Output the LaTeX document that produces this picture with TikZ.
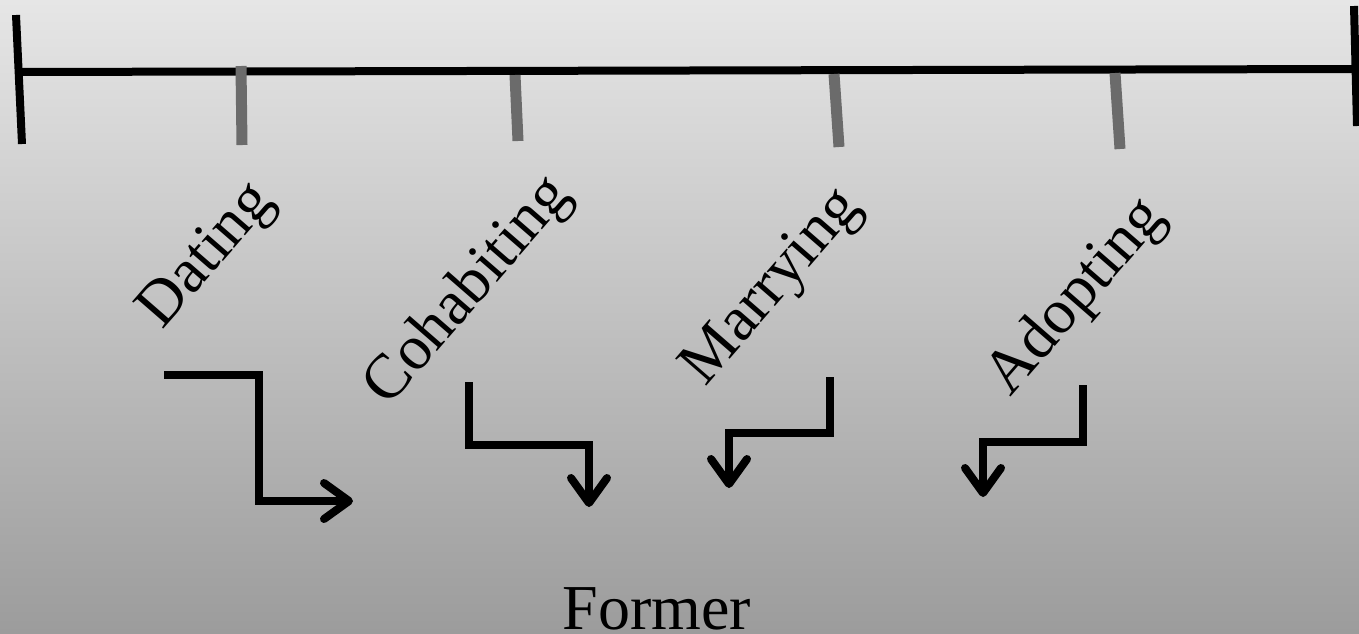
\documentclass[tikz,border=0pt]{standalone}
\usepackage{fontspec}
\setmainfont{Liberation Serif}
\usetikzlibrary{arrows.meta}
\definecolor{bgtop}{HTML}{E6E6E6}
\definecolor{bgbottom}{HTML}{9C9C9C}
\definecolor{tickgray}{HTML}{6B6B6B}
\tikzset{
  axisline/.style={black, line width=8pt},
  minortick/.style={tickgray, line width=11pt},
  stagelabel/.style={inner sep=0pt, rotate=49, font=\fontsize{63}{68}\selectfont},
  flow/.style={black, line width=8pt, line join=miter,
    -{Straight Barb[length=25pt, width=36pt, round]}}
}
\begin{document}
\begin{tikzpicture}[x=1pt, y=-1pt]
  % background
  \shade[top color=bgtop, bottom color=bgbottom] (0,0) rectangle (1359,633);
  \useasboundingbox (0,0) rectangle (1359,633);

  % time axis with its end bars
  \draw[axisline] (18,72) -- (1356,69);
  \draw[axisline] (16,15) -- (22,144);
  \draw[axisline] (1354,6) -- (1357,126);

  % stage ticks
  \draw[minortick] (241,66) -- (242,145);
  \draw[minortick] (515,75) -- (518,141);
  \draw[minortick] (834,74) -- (839,147);
  \draw[minortick] (1115,73) -- (1120,149);

  % stage labels
  \node[stagelabel] (dating) at (208,257) {Dating};
  \node[stagelabel] (cohabiting) at (469,292) {Cohabiting};
  \node[stagelabel] (marrying) at (773,288) {Marrying};
  \node[stagelabel] (adopting) at (1077,298) {Adopting};

  % stepped arrows
  \coordinate (d0) at (164,375);
  \coordinate (d1) at (353,501);
  \draw[flow] (d0) -- (259,375) -- (259,501) -- (d1);

  \coordinate (c0) at (469,382);
  \coordinate (c1) at (589,507);
  \draw[flow] (c0) -- (469,445) -- (589,445) -- (c1);

  \coordinate (m0) at (830,377);
  \coordinate (m1) at (729,488);
  \draw[flow] (m0) -- (830,433) -- (729,433) -- (m1);

  \coordinate (a0) at (1083,385);
  \coordinate (a1) at (983,497);
  \draw[flow] (a0) -- (1083,442) -- (983,442) -- (a1);

  % bottom caption
  \node[inner sep=0pt, anchor=base, font=\fontsize{64}{70}\selectfont] (former) at (657,629) {Former};
\end{tikzpicture}
\end{document}
